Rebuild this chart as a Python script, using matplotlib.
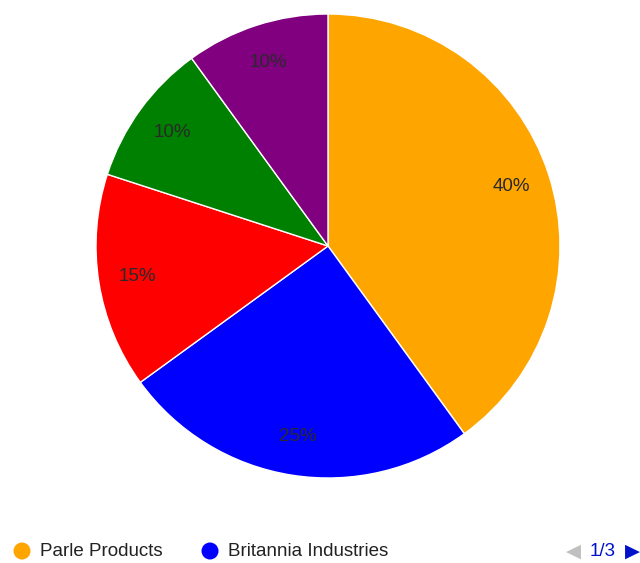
import matplotlib
matplotlib.use("Agg")
import matplotlib.pyplot as plt

plt.rcParams['font.family'] = ['Liberation Sans', 'DejaVu Sans']

# slice data, clockwise from 12 o'clock
companies = ['Parle Products', 'Britannia Industries', 'Company C', 'Company D', 'Company E']
shares = [40, 25, 15, 10, 10]
colors = ['#ffa500', '#0000ff', '#ff0000', '#008000', '#800080']
legend_shown = 2
page_label = '1/3'

W, H = 640, 563
fig = plt.figure(figsize=(W / 100, H / 100), dpi=100, facecolor='white')

cx, cy, r = 328, 246, 232
ax = fig.add_axes([(cx - r) / W, (H - cy - r) / H, 2 * r / W, 2 * r / H])
ax.set_aspect('equal')
ax.axis('off')

wedges, texts, autotexts = ax.pie(
    shares, colors=colors, startangle=90, counterclock=False, radius=1,
    autopct=lambda p: '%d%%' % round(p), pctdistance=0.83,
    wedgeprops=dict(edgecolor='white', linewidth=1),
    textprops=dict(color='#2a2a2a', fontsize=13.5))
ax.set_xlim(-1, 1)
ax.set_ylim(-1, 1)

# legend row + pager in pixel coordinates
ov = fig.add_axes([0, 0, 1, 1])
ov.set_xlim(0, W)
ov.set_ylim(H, 0)
ov.axis('off')

ly = 551
xs = [22, 210]
for i in range(legend_shown):
    ov.scatter(xs[i], ly, s=150, color=colors[i], edgecolors='none')
    ov.text(xs[i] + 18, ly, companies[i], fontsize=13.5, color='#222222',
            va='center', ha='left')

ov.text(573, ly, '\u25c0', fontsize=14, color='#c0c0c0', va='center', ha='center',
        family=['DejaVu Sans'])
ov.text(603, ly, page_label, fontsize=13.5, color='#0011cc', va='center', ha='center')
ov.text(632, ly, '\u25b6', fontsize=14, color='#0011cc', va='center', ha='center',
        family=['DejaVu Sans'])

fig.savefig('out.png', dpi=100, facecolor='white')
